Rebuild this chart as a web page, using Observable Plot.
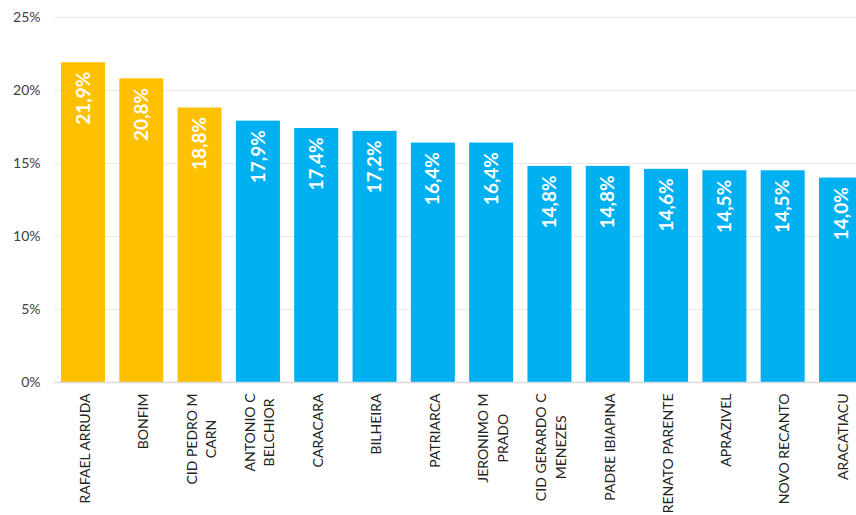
<!DOCTYPE html>
<html>
<head>
<meta charset="utf-8">
<script src="https://cdn.jsdelivr.net/npm/d3@7"></script>
<script src="https://cdn.jsdelivr.net/npm/@observablehq/plot@0.6"></script>
<style>
  html, body { margin: 0; padding: 0; background: #fff; }
  svg { font-family: Lato, "Open Sans", sans-serif; }
</style>
</head>
<body>
<script>
const names = [
  "RAFAEL ARRUDA", "BONFIM", "CID PEDRO M\nCARN", "ANTONIO C\nBELCHIOR",
  "CARACARA", "BILHEIRA", "PATRIARCA", "JERONIMO M\nPRADO",
  "CID GERARDO C\nMENEZES", "PADRE IBIAPINA", "RENATO PARENTE", "APRAZIVEL",
  "NOVO RECANTO", "ARACATIACU"
];
const values = [21.9, 20.8, 18.8, 17.9, 17.4, 17.2, 16.4, 16.4, 14.8, 14.8, 14.6, 14.5, 14.5, 14.0];
const groups = ["top", "top", "top", "rest", "rest", "rest", "rest", "rest", "rest", "rest", "rest", "rest", "rest", "rest"];
const yTicks = [0, 5, 10, 15, 20, 25];

const data = names.map((name, i) => ({name, value: values[i], group: groups[i]}));
const fmt = v => v.toFixed(1).replace(".", ",") + "%";

const chart = Plot.plot({
  width: 856,
  height: 515,
  marginLeft: 54,
  marginRight: 0,
  marginTop: 17,
  marginBottom: 133,
  style: {fontFamily: "Lato, 'Open Sans', sans-serif", background: "#fff"},
  x: {domain: names, range: [54, 870], paddingInner: 0.245, paddingOuter: 0.12, round: false, label: null},
  y: {domain: [0, 25], label: null},
  color: {domain: ["top", "rest"], range: ["#FFC000", "#00B0F0"]},
  marks: [
    Plot.gridY(yTicks, {stroke: "#ebebeb", strokeOpacity: 1}),
    Plot.barY(data, {x: "name", y: "value", fill: "group"}),
    Plot.ruleY([0], {stroke: "#d9d9d9", strokeWidth: 1.5}),
    Plot.text(data, {
      x: "name", y: "value", text: d => fmt(d.value),
      rotate: -90, textAnchor: "end", lineAnchor: "middle",
      dy: 9, fill: "#fff", fontSize: 19, fontWeight: "bold"
    }),
    Plot.axisY(yTicks, {
      tickSize: 0, tickPadding: 14, tickFormat: d => d + "%",
      fontSize: 14, fill: "#404040"
    }),
    Plot.axisX({
      tickSize: 0, tickPadding: 11, tickRotate: -90,
      fontSize: 14, fill: "#222", lineHeight: 1.4
    })
  ]
});
document.body.append(chart);

// center the lines of multi-line category labels within their block
chart.querySelectorAll('g[aria-label="x-axis tick label"] text').forEach(t => {
  const tspans = [...t.querySelectorAll("tspan")];
  if (tspans.length < 2) return;
  const w = Math.max(...tspans.map(s => s.getComputedTextLength()));
  t.setAttribute("text-anchor", "middle");
  tspans.forEach(s => s.setAttribute("x", -w / 2));
});
</script>
</body>
</html>
